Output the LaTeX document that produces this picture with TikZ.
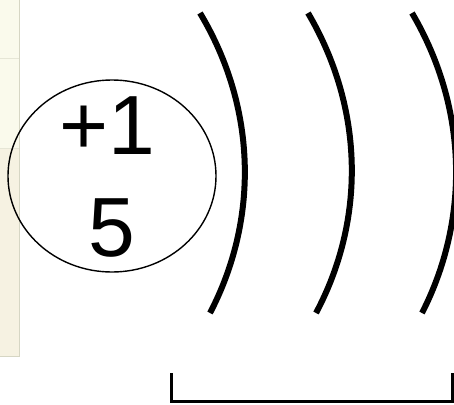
\documentclass[tikz,border=0pt]{standalone}
\usepackage{fontspec}
\setmainfont{Liberation Sans}
\usetikzlibrary{shapes.geometric}
\definecolor{panelA}{HTML}{FAFAEC}
\definecolor{panelB}{HTML}{F6F2E2}
\definecolor{panelEdge}{HTML}{D6D6C4}
\definecolor{panelLine}{HTML}{E6E6D6}
\tikzset{
  shell/.style={line width=6pt, line cap=butt},
  brk/.style={line width=3pt},
  nucleus/.style={draw, line width=1.4pt, ellipse, minimum width=208pt, minimum height=192pt, inner sep=0pt},
  big/.style={font=\fontsize{84}{84}\selectfont, inner sep=0pt}
}
\begin{document}
\begin{tikzpicture}[x=1pt,y=-1pt]
\useasboundingbox (0,0) rectangle (454,404);
% left panel
\fill[panelA] (0,0) rectangle (19,148);
\fill[panelB] (0,148) rectangle (19,356);
\draw[panelLine, line width=1pt] (0,58) -- (19,58);
\draw[panelLine, line width=1pt] (0,148) -- (19,148);
\draw[panelEdge, line width=1.5pt] (19.5,0) -- (19.5,356.5) -- (0,356.5);
% nucleus
\node[nucleus] (nuc) at (112,176) {};
\node[big] (charge) at (107,126) {+1};
\node[big] (num) at (112,228) {5};
% shells
\coordinate (s1a) at (200,13); \coordinate (s1b) at (210,313);
\coordinate (s2a) at (308,13); \coordinate (s2b) at (316,313);
\coordinate (s3a) at (412,13); \coordinate (s3b) at (422,313);
\draw[shell] (s1a) .. controls (258,110) and (258,221) .. (s1b);
\draw[shell] (s2a) .. controls (365,110) and (365,221) .. (s2b);
\draw[shell] (s3a) .. controls (469,110) and (469,221) .. (s3b);
% bracket
\coordinate (b1) at (171,373); \coordinate (b2) at (171,401.5);
\coordinate (b3) at (452,401.5); \coordinate (b4) at (452,373);
\draw[brk] (b1) -- (b2) -- (b3) -- (b4);
\end{tikzpicture}
\end{document}
